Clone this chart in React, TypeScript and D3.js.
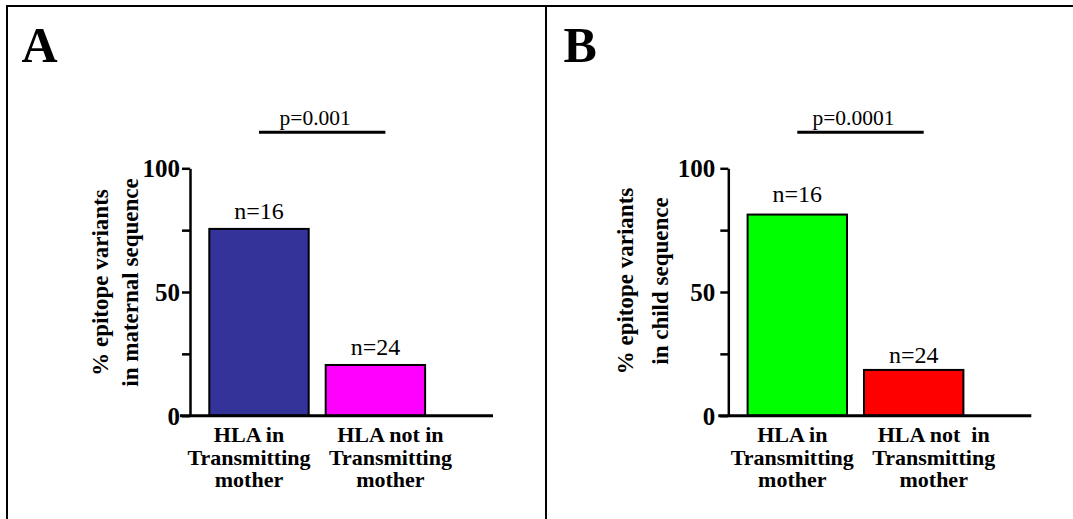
import React, { useRef, useEffect } from 'react';
import { select, scaleBand, scaleLinear, axisLeft } from 'd3';

// data
const categories = ['HLA in Transmitting mother', 'HLA not in Transmitting mother'];
const labelLinesA = [['HLA in', 'Transmitting', 'mother'], ['HLA not in', 'Transmitting', 'mother']];
const labelLinesB = [['HLA in', 'Transmitting', 'mother'], ['HLA not  in', 'Transmitting', 'mother']];
const maternalValues = [75.5, 20.5];
const childValues = [81.3, 18.5];
const sampleSizes = ['n=16', 'n=24'];
const yTicks = [0, 25, 50, 75, 100];
const yTickLabels = ['0', '', '50', '', '100'];
const titleA = ['% epitope variants', 'in maternal sequence'];
const titleB = ['% epitope variants', 'in child sequence'];

const FONT = '"Liberation Serif", "Times New Roman", serif';
const W = 1073;
const H = 519;

const panels = [
  {
    letter: 'A', letterX: 21.5, axisX: 190, values: maternalValues,
    colors: ['#333399', '#FF00FF'], lines: labelLinesA, title: titleA, p: 'p=0.001',
    tickPad: 2, titleX: [82, 52], titleY: 282.5, nGap: [10, 10], labelShift: [-10, 15]
  },
  {
    letter: 'B', letterX: 563.5, axisX: 728.3, values: childValues,
    colors: ['#00FF00', '#FF0000'], lines: labelLinesB, title: titleB, p: 'p=0.0001',
    tickPad: 5, titleX: [95, 60], titleY: 281, nGap: [12.5, 7], labelShift: [-5, 20]
  }
];

function addText(g, x, y, str, size, weight) {
  return g.append('text')
    .attr('x', x)
    .attr('y', y)
    .attr('text-anchor', 'middle')
    .attr('font-family', FONT)
    .attr('font-size', size)
    .attr('font-weight', weight)
    .attr('xml:space', 'preserve')
    .style('white-space', 'pre')
    .text(str);
}

export default function App() {
  const ref = useRef(null);

  useEffect(() => {
    const svg = select(ref.current);
    svg.selectAll('*').remove();

    // frame lines
    const frame = svg.append('g').attr('stroke', '#000').attr('stroke-width', 2);
    frame.append('line').attr('x1', 6).attr('x2', W).attr('y1', 6).attr('y2', 6);
    frame.append('line').attr('x1', 7).attr('x2', 7).attr('y1', 6).attr('y2', H);
    frame.append('line').attr('x1', 546).attr('x2', 546).attr('y1', 6).attr('y2', H);

    panels.forEach(p => {
      const g = svg.append('g');

      const y = scaleLinear().domain([0, 100]).range([415.7, 168.3]);
      const x = scaleBand()
        .domain(categories)
        .range([p.axisX + 10.8, p.axisX + 243.6])
        .paddingInner(0.146)
        .paddingOuter(0.073);
      const bw = x.bandwidth();

      // panel letter
      g.append('text')
        .attr('x', p.letterX)
        .attr('y', 62.3)
        .attr('font-family', FONT)
        .attr('font-size', 50)
        .attr('font-weight', 'bold')
        .text(p.letter);

      // bars
      g.selectAll('rect')
        .data(p.values)
        .enter()
        .append('rect')
        .attr('x', (d, i) => x(categories[i]))
        .attr('y', d => y(d))
        .attr('width', bw)
        .attr('height', d => y(0) - y(d))
        .attr('fill', (d, i) => p.colors[i])
        .attr('stroke', '#000')
        .attr('stroke-width', 2);

      // y axis
      const yAxis = axisLeft(y)
        .tickValues(yTicks)
        .tickFormat((d, i) => yTickLabels[i])
        .tickSize(8)
        .tickSizeOuter(0)
        .tickPadding(p.tickPad);
      const ya = g.append('g')
        .attr('transform', `translate(${p.axisX},0)`)
        .call(yAxis)
        .attr('font-family', FONT)
        .attr('font-size', 25)
        .attr('font-weight', 'bold');
      ya.select('.domain').attr('stroke-width', 2.5);
      ya.selectAll('.tick line').attr('stroke-width', 2.5);
      ya.selectAll('.tick text').attr('dy', '0.34em');

      // baseline
      g.append('line')
        .attr('x1', p.axisX - 10).attr('x2', p.axisX + 303)
        .attr('y1', y(0)).attr('y2', y(0))
        .attr('stroke', '#000').attr('stroke-width', 3);

      // n labels
      p.values.forEach((v, i) => {
        addText(g, x(categories[i]) + bw / 2, y(v) - p.nGap[i], sampleSizes[i], 24, 'normal');
      });

      // category labels
      p.lines.forEach((lines, i) => {
        const cx = x(categories[i]) + bw / 2 + p.labelShift[i];
        lines.forEach((t, j) => {
          addText(g, cx, y(0) + 26 + j * 22.8, t, 22, 'bold');
        });
      });

      // significance bar
      const px1 = x(categories[0]) + bw / 2;
      const px2 = x(categories[1]) + bw / 2 + 10;
      g.append('line')
        .attr('x1', px1).attr('x2', px2)
        .attr('y1', 132.3).attr('y2', 132.3)
        .attr('stroke', '#000').attr('stroke-width', 3);
      addText(g, (px1 + px2) / 2 - 7, 124.5, p.p, 21.5, 'normal');

      // y title
      p.title.forEach((t, k) => {
        g.append('text')
          .attr('transform', `translate(${p.axisX - p.titleX[k]},${p.titleY}) rotate(-90)`)
          .attr('text-anchor', 'middle')
          .attr('font-family', FONT)
          .attr('font-size', 23)
          .attr('font-weight', 'bold')
          .text(t);
      });
    });
  }, []);

  return (
    <svg
      ref={ref}
      width={W}
      height={H}
      style={{ position: 'absolute', left: 0, top: 0, background: '#fff' }}
    />
  );
}
